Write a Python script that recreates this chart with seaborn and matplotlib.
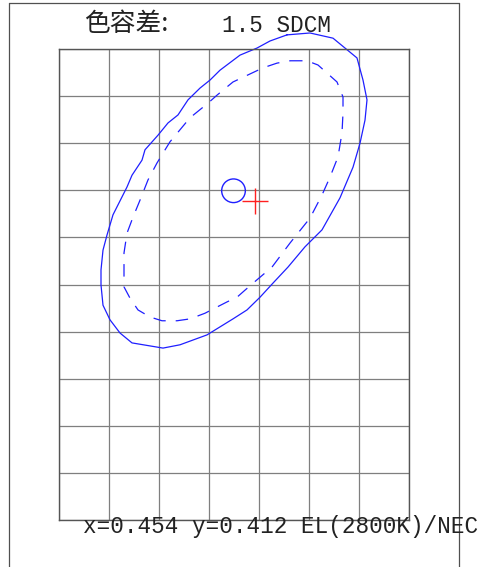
import matplotlib
matplotlib.use("Agg")
import matplotlib.pyplot as plt
import seaborn as sns
import pandas as pd
from matplotlib.lines import Line2D

sns.set_style("white")

# outer (solid) tolerance contour, grid units (7 x 10 cells)
solid_x = [4.56, 5.02, 5.48, 5.96, 6.08, 6.16, 6.12, 6.02, 5.88, 5.62, 5.26, 4.92, 4.58, 4.28,
           4.02, 3.76, 3.48, 2.96, 2.42, 2.08, 1.46, 1.22, 1.02, 0.88, 0.84, 0.84, 0.88, 0.96,
           1.08, 1.36, 1.46, 1.66, 1.72, 1.98, 2.18, 2.38, 2.58, 2.82, 3.02, 3.22, 3.62, 3.96,
           4.22, 4.56]
solid_y = [10.30, 10.34, 10.23, 9.81, 9.34, 8.92, 8.49, 8.00, 7.49, 6.84, 6.16, 5.80, 5.37, 5.03,
           4.73, 4.46, 4.27, 3.93, 3.72, 3.65, 3.76, 3.97, 4.25, 4.56, 4.99, 5.31, 5.73, 6.05,
           6.48, 7.07, 7.32, 7.64, 7.86, 8.17, 8.43, 8.60, 8.92, 9.17, 9.34, 9.55, 9.87, 10.02,
           10.17, 10.30]

# inner (dashed) contour
dash_x = [4.62, 4.96, 5.18, 5.56, 5.68, 5.68, 5.66, 5.58, 5.42, 5.26, 5.02, 4.62, 4.26, 3.96,
          3.72, 3.56, 3.36, 3.12, 2.92, 2.62, 2.36, 2.06, 1.82, 1.58, 1.42, 1.30, 1.30, 1.36,
          1.48, 1.62, 1.78, 1.96, 2.22, 2.62, 2.98, 3.16, 3.48, 3.86, 4.08, 4.36, 4.62]
dash_y = [9.75, 9.75, 9.66, 9.30, 8.98, 8.64, 8.22, 7.71, 7.28, 6.90, 6.41, 5.88, 5.37, 5.10,
          4.88, 4.73, 4.63, 4.50, 4.39, 4.27, 4.23, 4.23, 4.31, 4.46, 4.71, 4.95, 5.67, 6.09,
          6.43, 6.79, 7.22, 7.58, 8.03, 8.54, 8.85, 9.02, 9.30, 9.49, 9.60, 9.70, 9.75]

circle_pt = (3.49, 6.99)
cross_pt = (3.92, 6.77)

title_cn = "色容差:"
title_val = "1.5 SDCM"
footer = "x=0.454 y=0.412 EL(2800K)/NEC"

W, H = 482, 567
fig = plt.figure(figsize=(W / 100, H / 100), dpi=100)
fig.patch.set_facecolor("white")

# outer frame (open at the bottom, runs off the image)
frame = dict(color="#505050", lw=0.9, transform=fig.transFigure)
fig.add_artist(Line2D([9 / W, 9 / W], [-0.01, 1 - 3 / H], **frame))
fig.add_artist(Line2D([459 / W, 459 / W], [-0.01, 1 - 3 / H], **frame))
fig.add_artist(Line2D([9 / W, 459 / W], [1 - 3 / H, 1 - 3 / H], **frame))

ax = fig.add_axes([59 / W, (H - 520) / H, 350 / W, 471 / H])
ax.set_xlim(0, 7)
ax.set_ylim(0, 10)
ax.set_xticks(range(0, 8))
ax.set_yticks(range(0, 11))
ax.set_xticklabels([])
ax.set_yticklabels([])
ax.tick_params(length=0)
ax.grid(True, color="#7f7f7f", lw=0.9)
for s in ax.spines.values():
    s.set_color("#555555")
    s.set_linewidth(1.0)

solid = pd.DataFrame({"x": solid_x, "y": solid_y})
dashed = pd.DataFrame({"x": dash_x, "y": dash_y})
sns.lineplot(data=solid, x="x", y="y", sort=False, estimator=None, ax=ax,
             color="#1f1fff", lw=0.9)
sns.lineplot(data=dashed, x="x", y="y", sort=False, estimator=None, ax=ax,
             color="#1f1fff", lw=0.9, linestyle=(0, (10, 8)))
for ln in ax.lines:
    ln.set_clip_on(False)
ax.set_xlabel("")
ax.set_ylabel("")

ax.scatter([circle_pt[0]], [circle_pt[1]], s=290, marker="o", facecolors="none",
           edgecolors="#1f1fff", linewidths=1.0, clip_on=False, zorder=5)
ax.scatter([cross_pt[0]], [cross_pt[1]], s=350, marker="+", color="#ff2020",
           linewidths=1.0, clip_on=False, zorder=5)

fig.text(85 / W, 1 - 24 / H, title_cn, family=["Noto Sans CJK SC", "DejaVu Sans"],
         fontsize=18.5, va="center", ha="left", color="#222222", fontweight="light")
fig.text(222 / W, 1 - 26 / H, title_val, family=["Liberation Mono"],
         fontsize=16.3, va="center", ha="left", color="#222222")
fig.text(83 / W, 1 - 526 / H, footer, family=["Liberation Mono"],
         fontsize=16.3, va="center", ha="left", color="#222222")

fig.savefig("out.png", dpi=100)
